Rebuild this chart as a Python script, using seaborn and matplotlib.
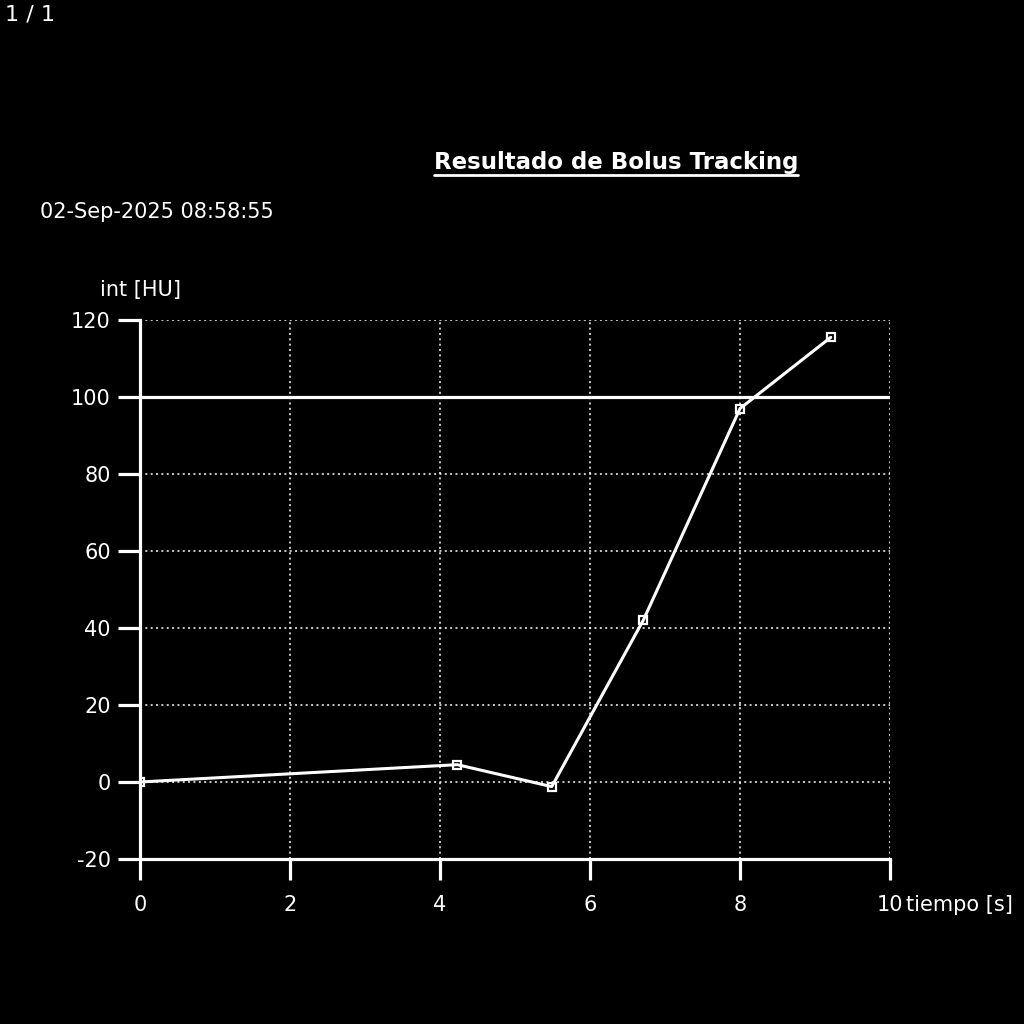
import matplotlib
matplotlib.use('Agg')
import matplotlib.pyplot as plt
import seaborn as sns
import pandas as pd
from matplotlib.lines import Line2D

# valores
tiempo = [0.0, 4.23, 5.49, 6.71, 8.0, 9.21]
intensidad = [0.0, 4.5, -1.2, 42.0, 97.0, 115.5]
umbral = 100
xticks = [0, 2, 4, 6, 8, 10]
yticks = [-20, 0, 20, 40, 60, 80, 100, 120]

titulo = "Resultado de Bolus Tracking"
fecha = "02-Sep-2025 08:58:55"
pagina = "1 / 1"

sns.set_style("dark")
plt.rcParams['font.family'] = ['DejaVu Sans']
plt.rcParams['axes.unicode_minus'] = False
plt.rcParams['figure.facecolor'] = 'black'
plt.rcParams['axes.facecolor'] = 'black'

df = pd.DataFrame({'tiempo': tiempo, 'int': intensidad})

fig = plt.figure(figsize=(10.24, 10.24), dpi=100)
ax = fig.add_axes([140/1024, 1 - 859/1024, 750/1024, 539/1024])
ax.set_facecolor('black')

# rejilla punteada
for v in yticks:
    if v not in (umbral, -20):
        ax.axhline(v, color='white', lw=1.1, ls=(0, (1.3, 2.2)), zorder=1)
for v in xticks[1:]:
    ax.axvline(v, color='white', lw=1.1, ls=(0, (1.3, 2.2)), zorder=1)

ax.axhline(umbral, color='white', lw=2.3, zorder=2)

sns.lineplot(data=df, x='tiempo', y='int', ax=ax, color='white', lw=2.2,
             marker='s', markersize=6, markerfacecolor='none',
             markeredgecolor='white', markeredgewidth=1.6, zorder=3)

ax.set_xlim(0, 10)
ax.set_ylim(-20, 120)
ax.set_xticks(xticks)
ax.set_yticks(yticks)
ax.set_xlabel('')
ax.set_ylabel('')
ax.grid(False)
for s in ['top', 'right']:
    ax.spines[s].set_visible(False)
for s in ['left', 'bottom']:
    ax.spines[s].set_color('white')
    ax.spines[s].set_linewidth(2.3)
ax.tick_params(axis='y', direction='out', length=16, width=2.3, color='white',
               labelcolor='white', labelsize=15, pad=5, left=True)
ax.tick_params(axis='x', direction='out', length=15, width=2.3, color='white',
               labelcolor='white', labelsize=15, pad=11, bottom=True)

fig.text(5/1024, 1 - 15/1024, pagina, color='white', fontsize=16,
         ha='left', va='center')
t = fig.text(616/1024, 1 - 162/1024, titulo, color='white', fontsize=16.5,
             fontweight='bold', ha='center', va='center')
fig.text(40/1024, 1 - 212/1024, fecha, color='white', fontsize=15,
         ha='left', va='center')
fig.text(100/1024, 1 - 290/1024, "int [HU]", color='white', fontsize=15,
         ha='left', va='center')
fig.text(906/1024, 1 - 905/1024, "tiempo [s]", color='white', fontsize=15,
         ha='left', va='center')

# subrayado del titulo
fig.canvas.draw()
bb = t.get_window_extent().transformed(fig.transFigure.inverted())
fig.add_artist(Line2D([bb.x0, bb.x1], [1 - 175/1024, 1 - 175/1024],
                      color='white', lw=2, transform=fig.transFigure))

fig.savefig('out.png', dpi=100, facecolor='black')
